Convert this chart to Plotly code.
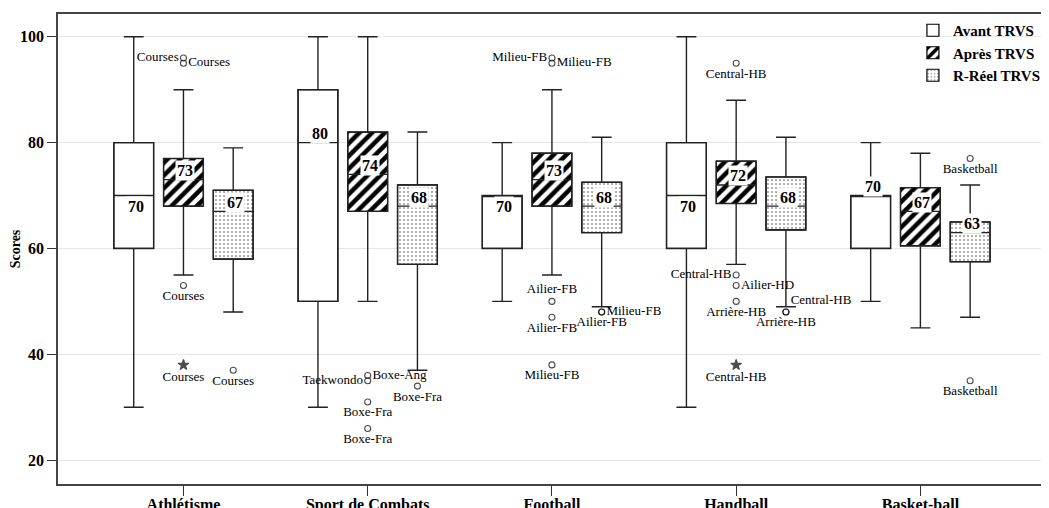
import plotly.graph_objects as go
import numpy as np

categories = ["Athlétisme", "Sport de Combats", "Football", "Handball", "Basket-ball"]
series = ["Avant TRVS", "Après TRVS", "R-Réel TRVS"]

# box statistics per category
avant_q1 = [60, 50, 60, 60, 60]
avant_med = [70, 80, 70, 70, 70]
avant_q3 = [80, 90, 70, 80, 70]
avant_lo = [30, 30, 50, 30, 50]
avant_hi = [100, 100, 80, 100, 80]

apres_q1 = [68, 67, 68, 68.5, 60.5]
apres_med = [73, 74, 73, 72, 67]
apres_q3 = [77, 82, 78, 76.5, 71.5]
apres_lo = [55, 50, 55, 57, 45]
apres_hi = [90, 100, 90, 88, 78]

reel_q1 = [58, 57, 63, 63.5, 57.5]
reel_med = [67, 68, 68, 68, 63]
reel_q3 = [71, 72, 72.5, 73.5, 65]
reel_lo = [48, 37, 49, 49, 47]
reel_hi = [79, 82, 81, 81, 72]

# outliers: category index, series index, value, label, extreme (star)
out_cat = [0, 0, 0, 0, 0, 1, 1, 1, 1, 1, 2, 2, 2, 2, 2, 2, 2, 3, 3, 3, 3, 3, 3, 3, 4, 4]
out_ser = [1, 1, 1, 1, 2, 1, 1, 1, 1, 2, 1, 1, 1, 1, 1, 2, 2, 1, 1, 1, 1, 1, 2, 2, 2, 2]
out_val = [96, 95, 53, 38, 37, 36, 35, 31, 26, 34, 96, 95, 50, 47, 38, 48, 48,
           95, 55, 53, 50, 38, 48, 48, 77, 35]
out_label = ["Courses", "Courses", "Courses", "Courses", "Courses",
             "Boxe-Ang", "Taekwondo", "Boxe-Fra", "Boxe-Fra", "Boxe-Fra",
             "Milieu-FB", "Milieu-FB", "Ailier-FB", "Ailier-FB", "Milieu-FB", "Milieu-FB", "Ailier-FB",
             "Central-HB", "Central-HB", "Ailier-HD", "Arrière-HB", "Central-HB", "Central-HB", "Arrière-HB",
             "Basketball", "Basketball"]
out_extreme = [False, False, False, True, False, False, False, False, False, False,
               False, False, False, False, False, False, False,
               False, False, False, False, True, False, False, False, False]

# label placement (layout only)
out_textpos = ["middle left", "middle right", "bottom center", "bottom center", "bottom center",
               "middle right", "middle left", "bottom center", "bottom center", "bottom center",
               "middle left", "middle right", "top center", "bottom center", "bottom center",
               "middle right", "bottom center",
               "bottom center", "middle left", "middle right", "bottom center", "bottom center",
               "top right", "bottom center",
               "bottom center", "bottom center"]
med_shift = [[-11, 9, -11, -11, 9], [9, 9, 9, 9, 9], [9, 9, 9, 9, 9]]

FONT = "Liberation Serif"
offsets = [-0.27, 0, 0.27]
bw = 0.216

stats = [
    (avant_q1, avant_med, avant_q3, avant_lo, avant_hi),
    (apres_q1, apres_med, apres_q3, apres_lo, apres_hi),
    (reel_q1, reel_med, reel_q3, reel_lo, reel_hi),
]
patterns = [
    dict(shape=""),
    dict(shape="/", fgcolor="black", bgcolor="white", fgopacity=1, size=9, solidity=0.5),
    dict(shape=".", fgcolor="#444444", bgcolor="white", fgopacity=1, size=4, solidity=0.12),
]

fig = go.Figure()
xs = np.arange(len(categories))

# pattern fills (bars) underneath the box outlines
for k, (q1, med, q3, lo, hi) in enumerate(stats):
    fig.add_trace(go.Bar(
        x=xs + offsets[k], base=q1, y=np.array(q3) - np.array(q1), width=bw,
        marker=dict(color="white", opacity=1, pattern=patterns[k],
                    line=dict(color="black", width=1.2)),
        name=series[k], hoverinfo="skip",
    ))

for k, (q1, med, q3, lo, hi) in enumerate(stats):
    fig.add_trace(go.Box(
        x=xs + offsets[k], q1=q1, median=med, q3=q3, lowerfence=lo, upperfence=hi,
        width=bw, whiskerwidth=0.5, boxpoints=False,
        fillcolor="rgba(0,0,0,0)", line=dict(color="#222222", width=1.4),
        showlegend=False,
    ))
    for i in range(len(categories)):
        fig.add_annotation(
            x=xs[i] + offsets[k], y=med[i], text=str(int(round(med[i]))), showarrow=False,
            yshift=med_shift[k][i], xshift=2, bgcolor="white", borderpad=1,
            font=dict(family=FONT, size=16, color="black", weight="bold"),
        )

ox = [xs[c] + offsets[s] for c, s in zip(out_cat, out_ser)]
fig.add_trace(go.Scatter(
    x=ox, y=out_val, mode="markers+text", text=out_label, textposition=out_textpos,
    marker=dict(
        symbol=["star" if e else "circle-open" for e in out_extreme],
        size=[8 if e else 6 for e in out_extreme],
        color="black", line=dict(color="black", width=1.1),
    ),
    textfont=dict(family=FONT, size=13, color="black"),
    showlegend=False, hoverinfo="skip",
))

# the page body adds an 8px offset, so the figure is 8px smaller on each side
fig.update_layout(
    width=1041, height=500,
    margin=dict(l=50, r=3, t=6, b=24),
    paper_bgcolor="white", plot_bgcolor="white",
    barmode="overlay", boxmode="overlay",
    font=dict(family=FONT, color="black"),
    legend=dict(x=1.004, y=1, xanchor="right", yanchor="top", bgcolor="rgba(0,0,0,0)",
                font=dict(family=FONT, size=15, weight="bold"), tracegroupgap=0,
                itemwidth=30),
    xaxis=dict(range=[-0.681, 4.66], tickvals=list(xs), ticktext=categories,
               ticks="outside", ticklen=10, tickcolor="#333", showgrid=False, zeroline=False,
               showline=True, mirror=True, linecolor="#444", linewidth=1.5, automargin=False,
               ticklabelstandoff=-5,
               tickfont=dict(family=FONT, size=16, weight="bold")),
    yaxis=dict(range=[15.5, 104.3], tickvals=[20, 40, 60, 80, 100],
               ticks="outside", ticklen=9, tickcolor="#333", gridcolor="#e6e6e6",
               zeroline=False, showline=True, mirror=True, linecolor="#444", linewidth=1.5,
               automargin=False,
               tickfont=dict(family=FONT, size=16, weight="bold"),
               title=dict(text="Scores", font=dict(family=FONT, size=14, weight="bold"), standoff=2)),
)

fig.write_html("out.html")
